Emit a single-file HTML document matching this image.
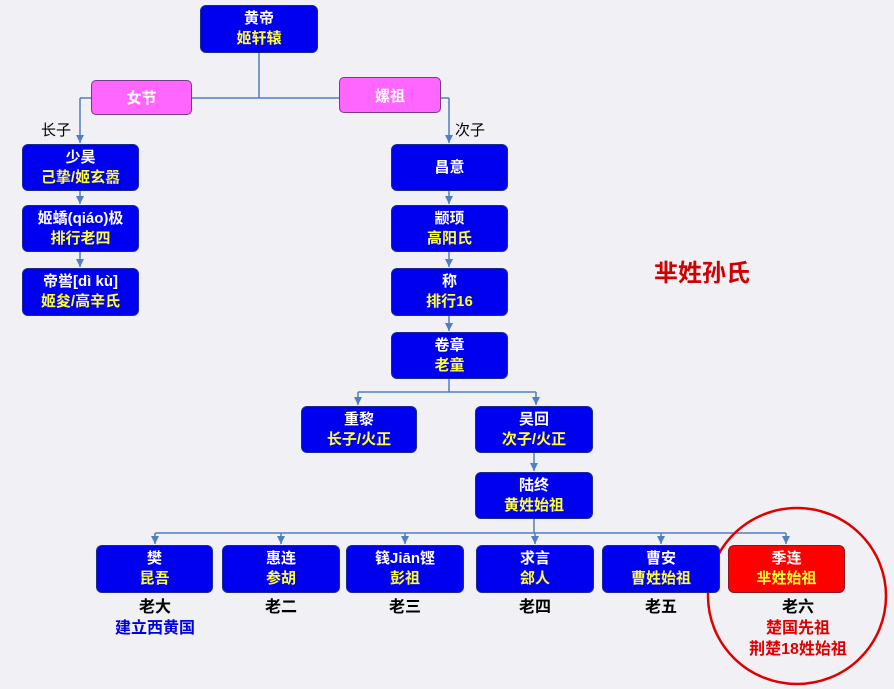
<!DOCTYPE html>
<html><head><meta charset="utf-8"><style>
body{margin:0;width:894px;height:689px;background:#f0f0f5;position:relative;overflow:hidden;font-family:"Liberation Sans","Noto Sans CJK SC",sans-serif;font-weight:bold}
.b{position:absolute;box-sizing:border-box;background:#0000f0;border:1px solid #1a2a8a;border-radius:6px;color:#fff;font-size:15px;text-align:center;display:flex;flex-direction:column;justify-content:center;line-height:20px}
.b i{font-style:normal;color:#ffff33}
.p{position:absolute;box-sizing:border-box;background:#ff66ff;border:1px solid #7a3a8a;border-radius:5px;color:#fff;font-size:15px;text-align:center;display:flex;align-items:center;justify-content:center}
.t{position:absolute;font-size:16px;text-align:center;width:120px;line-height:21px}
svg{position:absolute;left:0;top:0}
</style></head><body>
<svg width="894" height="689">
<defs><marker id="a" markerWidth="8" markerHeight="8" refX="8" refY="4" orient="auto" markerUnits="userSpaceOnUse"><path d="M0,0 L8,4 L0,8z" fill="#4f7fc0"/></marker></defs>
<g stroke="#4f7fc0" stroke-width="1.5" fill="none">
<path d="M259,53V98M80,98H449"/>
<path d="M80,98V143" marker-end="url(#a)"/>
<path d="M449,98V143" marker-end="url(#a)"/>
<path d="M80,191V204" marker-end="url(#a)"/><path d="M80,252V267" marker-end="url(#a)"/>
<path d="M449,191V204" marker-end="url(#a)"/><path d="M449,252V267" marker-end="url(#a)"/><path d="M449,316V331" marker-end="url(#a)"/>
<path d="M449,379V392M358,392H536"/>
<path d="M358,392V405" marker-end="url(#a)"/><path d="M536,392V405" marker-end="url(#a)"/>
<path d="M534,453V471" marker-end="url(#a)"/>
<path d="M534,519V533M155,533H786"/>
<path d="M155,533V544" marker-end="url(#a)"/><path d="M281,533V544" marker-end="url(#a)"/><path d="M405,533V544" marker-end="url(#a)"/><path d="M535,533V544" marker-end="url(#a)"/><path d="M661,533V544" marker-end="url(#a)"/><path d="M786,533V544" marker-end="url(#a)"/>
</g>
<ellipse cx="797" cy="596" rx="89" ry="88" stroke="#e00000" stroke-width="2.5" fill="none"/>
</svg>
<div class="b" style="left:200px;top:5px;width:118px;height:48px">黄帝<i>姬轩辕</i></div>
<div class="p" style="left:91px;top:80px;width:101px;height:35px">女节</div>
<div class="p" style="left:339px;top:77px;width:102px;height:36px">嫘祖</div>
<div class="t" style="left:-4px;top:120px;width:120px;font-weight:normal;font-size:15px">长子</div>
<div class="t" style="left:410px;top:120px;width:120px;font-weight:normal;font-size:15px">次子</div>
<div class="b" style="left:22px;top:144px;width:117px;height:47px">少昊<i>己挚/姬玄嚣</i></div>
<div class="b" style="left:22px;top:205px;width:117px;height:47px">姬蟜(qiáo)极<i>排行老四</i></div>
<div class="b" style="left:22px;top:268px;width:117px;height:48px">帝喾[dì kù]<i>姬夋/高辛氏</i></div>
<div class="b" style="left:391px;top:144px;width:117px;height:47px">昌意</div>
<div class="b" style="left:391px;top:205px;width:117px;height:47px">颛顼<i>高阳氏</i></div>
<div class="b" style="left:391px;top:268px;width:117px;height:48px">称<i>排行16</i></div>
<div class="b" style="left:391px;top:332px;width:117px;height:47px">卷章<i>老童</i></div>
<div class="b" style="left:301px;top:406px;width:116px;height:47px">重黎<i>长子/火正</i></div>
<div class="b" style="left:475px;top:406px;width:118px;height:47px">吴回<i>次子/火正</i></div>
<div class="b" style="left:475px;top:472px;width:118px;height:47px">陆终<i>黄姓始祖</i></div>
<div class="b" style="left:96px;top:545px;width:117px;height:48px">樊<i>昆吾</i></div>
<div class="b" style="left:222px;top:545px;width:118px;height:48px">惠连<i>参胡</i></div>
<div class="b" style="left:346px;top:545px;width:118px;height:48px">篯Jiān铿<i>彭祖</i></div>
<div class="b" style="left:476px;top:545px;width:118px;height:48px">求言<i>郐人</i></div>
<div class="b" style="left:602px;top:545px;width:118px;height:48px">曹安<i>曹姓始祖</i></div>
<div class="b" style="left:728px;top:545px;width:117px;height:48px;background:#ff0000;border-color:#8a1a1a">季连<i>芈姓始祖</i></div>
<div class="t" style="left:95px;top:597px">老大<br><span style="color:#0000e0">建立西黄国</span></div>
<div class="t" style="left:221px;top:597px">老二</div>
<div class="t" style="left:345px;top:597px">老三</div>
<div class="t" style="left:475px;top:597px">老四</div>
<div class="t" style="left:601px;top:597px">老五</div>
<div class="t" style="top:597px;width:130px;left:733px">老六<br><span style="color:#e00000">楚国先祖<br>荆楚18姓始祖</span></div>
<div style="position:absolute;left:654px;top:253px;font-size:24px;color:#d00000">芈姓孙氏</div>
</body></html>
